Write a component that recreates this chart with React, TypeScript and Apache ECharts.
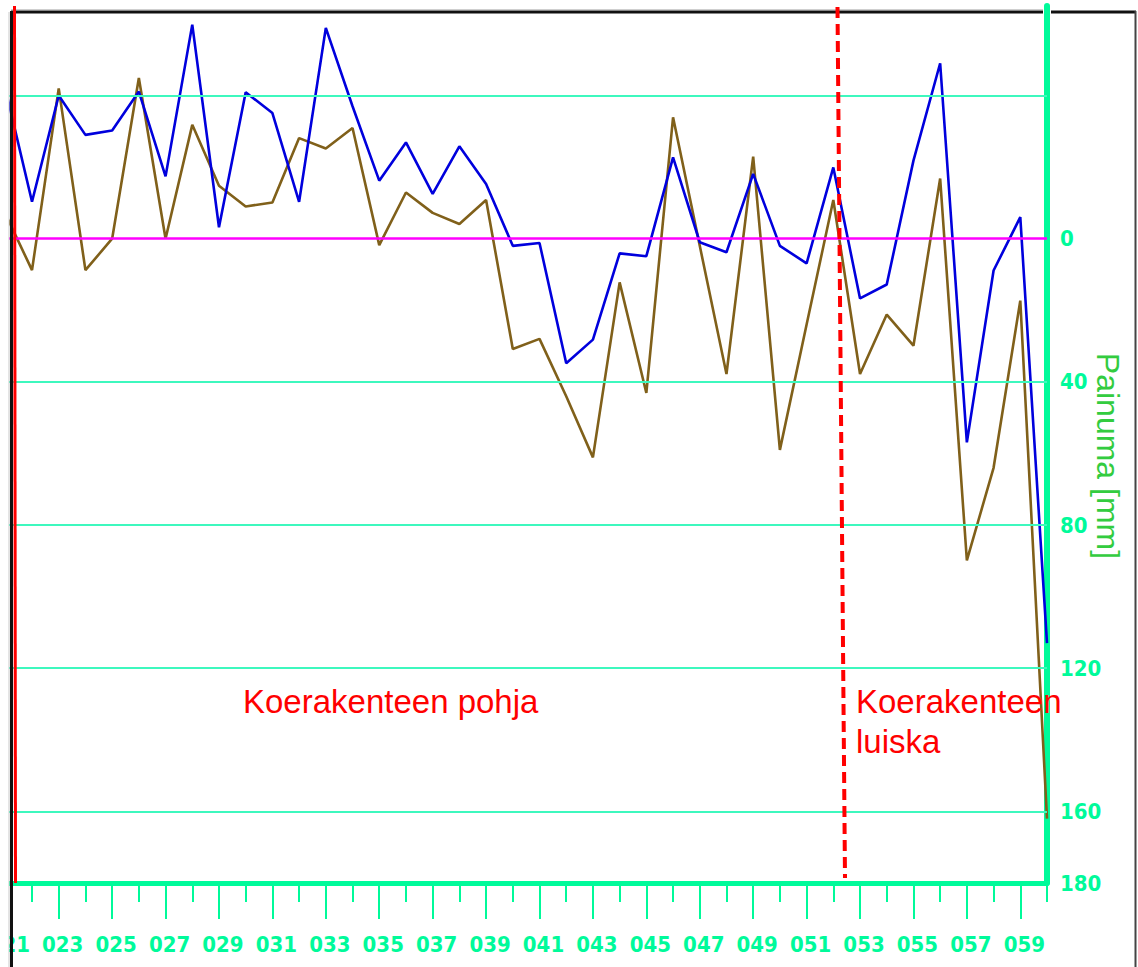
import React, { useEffect, useRef } from 'react';
import * as echarts from 'echarts';

const categories = [
  '021', '022', '023', '024', '025', '026', '027', '028', '029', '030',
  '031', '032', '033', '034', '035', '036', '037', '038', '039', '040',
  '041', '042', '043', '044', '045', '046', '047', '048', '049', '050',
  '051', '052', '053', '054', '055', '056', '057', '058', '059', '060',
];

const blueValues = [
  -42, -10.3, -40, -29, -30.2, -41.1, -17.4, -59.8, -3.2, -40.9,
  -35.1, -10.3, -58.9, -37, -16.2, -26.9, -12.5, -25.8, -15.3, 2,
  1.2, 34.8, 28.2, 4.1, 4.9, -22.7, 1, 3.8, -18.1, 2,
  6.9, -19.9, 16.7, 12.8, -21.8, -49, 56.9, 8.9, -6, 113,
];

const brownValues = [
  -7, 8.8, -42, 8.8, 0, -44.9, 0, -31.8, -14.8, -9,
  -10.1, -28.1, -25.2, -30.9, 1.8, -12.9, -7.2, -4.1, -10.8, 30.8,
  28, 44, 61.1, 12.2, 43.1, -33.9, 2, 37.8, -22.9, 59,
  24, -10.8, 37.8, 21.2, 29.9, -16.8, 89.9, 64, 17.3, 162,
];

const gridLineValues = [-40, 40, 80, 120, 160];
const zeroLineValue = 0;
const yLabelValues = [0, 40, 80, 120, 160, 180];
const yMin = -65;
const yMax = 180;

const axisTitle = 'Painuma [mm]';
const leftAreaLabel = 'Koerakenteen pohja';
const rightAreaLabel1 = 'Koerakenteen';
const rightAreaLabel2 = 'luiska';

export default function App() {
  const ref = useRef<HTMLDivElement>(null);

  useEffect(() => {
    if (!ref.current) return;
    const chart = echarts.init(ref.current, null, { renderer: 'svg' });
    const axisGreen = '#00FA9A';
    const gridGreen = '#3DF8BE';
    const numFont = "'DejaVu Sans Condensed', 'Liberation Sans Narrow', sans-serif";
    const grid = {
      left: 5.3,
      right: 91,
      top: 6,
      bottom: 84,
      containLabel: false,
      outerBoundsMode: 'none',
    };

    const option: any = {
      animation: false,
      backgroundColor: '#ffffff',
      grid: [{ ...grid }, { ...grid }],
      xAxis: [
        {
          type: 'category',
          data: categories,
          boundaryGap: false,
          gridIndex: 0,
          position: 'bottom',
          axisLine: { onZero: false, lineStyle: { color: axisGreen, width: 5 } },
          axisTick: { interval: 1, length: 36, lineStyle: { color: axisGreen, width: 2 } },
          axisLabel: {
            interval: 1,
            margin: 50,
            color: axisGreen,
            fontFamily: numFont,
            fontSize: 22,
            fontWeight: 'bold',
            padding: [0, 0, 0, 8],
            hideOverlap: false,
          },
          splitLine: { show: false },
        },
        {
          type: 'category',
          data: categories,
          boundaryGap: false,
          gridIndex: 1,
          position: 'bottom',
          axisLine: { show: false, onZero: false },
          axisTick: { show: true, interval: 0, length: 19, lineStyle: { color: axisGreen, width: 2 } },
          axisLabel: { show: false },
          splitLine: { show: false },
        },
      ],
      yAxis: [
        {
          type: 'value',
          gridIndex: 0,
          position: 'right',
          inverse: true,
          min: yMin,
          max: yMax,
          axisLine: { show: true, onZero: false, lineStyle: { color: axisGreen, width: 6 } },
          axisTick: { show: false },
          axisLabel: {
            customValues: yLabelValues,
            margin: 13,
            color: axisGreen,
            fontFamily: numFont,
            fontSize: 22,
            fontWeight: 'bold',
          },
          splitLine: { show: false },
        },
        {
          type: 'value',
          gridIndex: 1,
          position: 'right',
          inverse: true,
          min: yMin,
          max: yMax,
          show: false,
        },
      ],
      series: [
        {
          type: 'line',
          name: 'gridlines',
          xAxisIndex: 0,
          yAxisIndex: 0,
          data: [],
          z: 1,
          silent: true,
          markLine: {
            silent: true,
            symbol: 'none',
            label: { show: false },
            data: [
              ...gridLineValues.map((v) => ({
                yAxis: v,
                lineStyle: { color: gridGreen, width: 2, type: 'solid' },
              })),
              { yAxis: zeroLineValue, lineStyle: { color: '#FF00FF', width: 2.5, type: 'solid' } },
            ],
          },
        },
        {
          type: 'line',
          name: 'brown',
          xAxisIndex: 0,
          yAxisIndex: 0,
          data: brownValues,
          symbol: 'none',
          z: 3,
          lineStyle: { color: '#80601A', width: 2.6 },
        },
        {
          type: 'line',
          name: 'blue',
          xAxisIndex: 0,
          yAxisIndex: 0,
          data: blueValues,
          symbol: 'none',
          z: 4,
          lineStyle: { color: '#0000DD', width: 2.6 },
        },
      ],
      graphic: [
        { type: 'rect', z: 100, shape: { x: 0, y: 0, width: 9, height: 967 }, style: { fill: '#ffffff' } },
        { type: 'line', z: 101, shape: { x1: 9, y1: 12, x2: 9, y2: 967 }, style: { stroke: '#c8c8c8', lineWidth: 1 } },
        { type: 'line', z: 101, shape: { x1: 11.5, y1: 11, x2: 11.5, y2: 967 }, style: { stroke: '#111111', lineWidth: 3 } },
        { type: 'line', z: 101, shape: { x1: 11, y1: 9.5, x2: 1043, y2: 9.5 }, style: { stroke: '#cfcfcf', lineWidth: 1 } },
        { type: 'line', z: 101, shape: { x1: 11, y1: 12, x2: 1043, y2: 12 }, style: { stroke: '#111111', lineWidth: 3 } },
        { type: 'line', z: 101, shape: { x1: 1051, y1: 12, x2: 1136, y2: 12 }, style: { stroke: '#111111', lineWidth: 3 } },
        { type: 'line', z: 101, shape: { x1: 1135.5, y1: 11, x2: 1135.5, y2: 967 }, style: { stroke: '#444444', lineWidth: 2 } },
        { type: 'line', z: 102, shape: { x1: 14.5, y1: 6, x2: 15.5, y2: 883 }, style: { stroke: '#FF0000', lineWidth: 3 } },
        {
          type: 'line',
          z: 102,
          shape: { x1: 837.5, y1: 7, x2: 845, y2: 878 },
          style: { stroke: '#FF0000', lineWidth: 4, lineDash: [11, 6] },
        },
        {
          type: 'text',
          z: 103,
          x: 243,
          y: 701,
          style: {
            text: leftAreaLabel,
            fill: '#FF0000',
            font: "33px 'Liberation Sans', Arial, sans-serif",
            align: 'left',
            verticalAlign: 'middle',
          },
        },
        {
          type: 'text',
          z: 103,
          x: 856,
          y: 701,
          style: {
            text: rightAreaLabel1,
            fill: '#FF0000',
            font: "33px 'Liberation Sans', Arial, sans-serif",
            align: 'left',
            verticalAlign: 'middle',
          },
        },
        {
          type: 'text',
          z: 103,
          x: 856,
          y: 741,
          style: {
            text: rightAreaLabel2,
            fill: '#FF0000',
            font: "33px 'Liberation Sans', Arial, sans-serif",
            align: 'left',
            verticalAlign: 'middle',
          },
        },
        {
          type: 'text',
          z: 103,
          x: 1108,
          y: 456,
          rotation: -Math.PI / 2,
          style: {
            text: axisTitle,
            fill: '#33CC3F',
            font: "32px 'Liberation Sans', Arial, sans-serif",
            align: 'center',
            verticalAlign: 'middle',
          },
        },
      ],
    };

    chart.setOption(option);
    return () => chart.dispose();
  }, []);

  return (
    <div
      ref={ref}
      style={{ position: 'fixed', left: 0, top: 0, width: 1138, height: 967, background: '#fff' }}
    />
  );
}
